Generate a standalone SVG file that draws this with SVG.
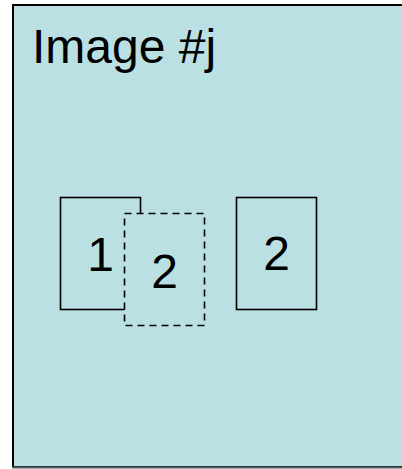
<svg xmlns="http://www.w3.org/2000/svg" width="402" height="469" viewBox="0 0 402 469">
<style>
.lbl{font-family:"Liberation Sans",Arial,sans-serif;font-size:48px;fill:#000}
.box{fill:#BBE0E3;stroke:#000;stroke-width:1.6}
.dash{stroke-dasharray:7,5}
</style>
<rect width="402" height="469" fill="#fff"/>
<g id="frame">
<rect x="13" y="5" width="400" height="462" fill="#BBE0E3" stroke="#000" stroke-width="2"/>
<line x1="12" y1="467.5" x2="402" y2="467.5" stroke="#4d6466" stroke-width="2"/>
<text class="lbl" x="32" y="63">Image #j</text>
</g>
<g id="page1">
<rect class="box" x="60.5" y="197.5" width="80" height="112"/>
<text class="lbl" x="100.5" y="271" text-anchor="middle">1</text>
</g>
<g id="page2-moving">
<rect class="box dash" x="124.5" y="213.5" width="80" height="112"/>
<text class="lbl" x="164.5" y="288" text-anchor="middle">2</text>
</g>
<g id="page2">
<rect class="box" x="236.5" y="197.5" width="80" height="112"/>
<text class="lbl" x="276.5" y="270" text-anchor="middle">2</text>
</g>
<g id="connectors"/>
</svg>
